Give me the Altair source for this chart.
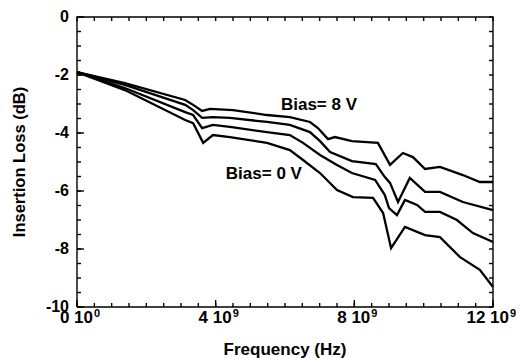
import altair as alt
import pandas as pd

# ---- data ----
f_8v = [0.00, 1.38, 3.12, 3.35, 3.61, 3.84, 4.50, 5.48, 6.14, 6.72, 6.95, 7.24, 7.44, 7.93, 8.68, 9.03, 9.40, 9.69, 10.04, 10.47, 11.13, 11.62, 12.00]
l_8v = [-1.90, -2.28, -2.86, -3.03, -3.24, -3.17, -3.21, -3.38, -3.45, -3.62, -3.83, -4.21, -4.14, -4.28, -4.34, -5.10, -4.69, -4.83, -5.24, -5.17, -5.45, -5.69, -5.69]

f_b2 = [0.00, 1.38, 3.12, 3.35, 3.61, 3.92, 4.41, 5.48, 6.14, 6.72, 7.01, 7.30, 7.93, 8.62, 8.88, 9.03, 9.26, 9.60, 10.04, 10.47, 11.13, 12.00]
l_b2 = [-1.90, -2.34, -3.03, -3.21, -3.48, -3.45, -3.48, -3.62, -3.72, -3.97, -4.28, -4.66, -4.97, -5.07, -5.52, -5.72, -6.38, -5.55, -6.03, -6.03, -6.38, -6.66]

f_b3 = [0.00, 1.38, 3.12, 3.35, 3.61, 3.92, 4.41, 5.48, 6.14, 6.52, 7.01, 7.50, 7.93, 8.60, 8.88, 9.00, 9.23, 9.46, 9.81, 10.04, 10.47, 10.96, 11.42, 12.00]
l_b3 = [-1.90, -2.45, -3.28, -3.38, -3.83, -3.72, -3.79, -3.97, -4.07, -4.34, -4.76, -5.10, -5.38, -5.62, -6.14, -6.59, -6.83, -6.31, -6.48, -6.72, -6.72, -7.00, -7.45, -7.76]

f_0v = [0.00, 1.38, 3.12, 3.35, 3.64, 3.92, 4.41, 5.48, 6.14, 6.52, 7.01, 7.50, 7.96, 8.54, 8.83, 9.06, 9.46, 10.04, 10.47, 11.05, 11.62, 12.00]
l_0v = [-1.90, -2.52, -3.55, -3.66, -4.34, -4.07, -4.14, -4.34, -4.59, -4.93, -5.38, -5.97, -6.21, -6.24, -6.76, -7.97, -7.24, -7.52, -7.59, -8.28, -8.72, -9.31]

series_names = ["Bias 8 V", "Bias mid 1", "Bias mid 2", "Bias 0 V"]
series_f = [f_8v, f_b2, f_b3, f_0v]
series_l = [l_8v, l_b2, l_b3, l_0v]

label_texts = ["Bias= 8 V", "Bias= 0 V"]
label_f = [6.98, 5.39]
label_l = [-3.03, -5.41]

x_title = "Frequency (Hz)"
y_title = "Insertion Loss (dB)"

x_major = [0, 4, 8, 12]
x_main_labels = ["0 10", "4 10", "8 10", "12 10"]
x_sup_labels = ["0", "9", "9", "9"]
y_major = [0, -2, -4, -6, -8, -10]
y_major_labels = ["0", "-2", "-4", "-6", "-8", "-10"]
x_minor = [i * 0.5 for i in range(0, 25)]
y_minor = [-i * 0.5 for i in range(0, 21)]

W, H = 416, 290
FONT = "Liberation Sans"
X_DOM = [0, 12]
Y_DOM = [-10, 0]

rows = []
for name, fs, ls in zip(series_names, series_f, series_l):
    for i, (f, l) in enumerate(zip(fs, ls)):
        rows.append({"series": name, "order": i, "freq": f, "loss": l})
df = pd.DataFrame(rows)

# frame + inward ticks on all four sides, as line segments (pixel lengths converted to data units)
px_x = (X_DOM[1] - X_DOM[0]) / W
px_y = (Y_DOM[1] - Y_DOM[0]) / H
tick_rows = []
frame_corners = [(X_DOM[0], Y_DOM[0]), (X_DOM[1], Y_DOM[0]), (X_DOM[1], Y_DOM[1]),
                 (X_DOM[0], Y_DOM[1]), (X_DOM[0], Y_DOM[0])]
for i, (fx, fy) in enumerate(frame_corners):
    tick_rows.append({"id": "frame", "order": i, "freq": fx, "loss": fy})


def add_xtick(k, v, yb, length_px, sign):
    tick_rows.append({"id": k, "order": 0, "freq": v, "loss": yb})
    tick_rows.append({"id": k, "order": 1, "freq": v, "loss": yb + sign * length_px * px_y})


def add_ytick(k, v, xb, length_px, sign):
    tick_rows.append({"id": k, "order": 0, "freq": xb, "loss": v})
    tick_rows.append({"id": k, "order": 1, "freq": xb + sign * length_px * px_x, "loss": v})


for j, v in enumerate(x_minor):
    add_xtick("xb%d" % j, v, Y_DOM[0], 4, 1)
    add_xtick("xt%d" % j, v, Y_DOM[1], 4, -1)
for j, v in enumerate(y_minor):
    add_ytick("yl%d" % j, v, X_DOM[0], 4, 1)
    add_ytick("yr%d" % j, v, X_DOM[1], 4, -1)
for j, v in enumerate(x_major):
    add_xtick("xB%d" % j, v, Y_DOM[0], 7, 1)
for j, v in enumerate(y_major):
    add_ytick("yL%d" % j, v, X_DOM[0], 7, 1)
df_ticks = pd.DataFrame(tick_rows)

df_lab = pd.DataFrame({"freq": label_f, "loss": label_l, "text": label_texts})
df_xlab = pd.DataFrame({"freq": x_major, "loss": [Y_DOM[0]] * len(x_major),
                        "main": x_main_labels, "sup": x_sup_labels})
df_ylab = pd.DataFrame({"loss": y_major, "text": y_major_labels})
df_xtitle = pd.DataFrame({"t": [x_title]})
df_ytitle = pd.DataFrame({"t": [y_title]})

xs = alt.Scale(domain=X_DOM, nice=False, zero=False)
ys = alt.Scale(domain=Y_DOM, nice=False, zero=False)

lines = alt.Chart(df).mark_line(color="black", strokeWidth=2.3).encode(
    x=alt.X("freq:Q", scale=xs, axis=None),
    y=alt.Y("loss:Q", scale=ys, axis=None),
    detail="series:N",
    order="order:Q",
)

ticks = alt.Chart(df_ticks).mark_line(color="black", strokeWidth=1.4).encode(
    x=alt.X("freq:Q", scale=xs, axis=None),
    y=alt.Y("loss:Q", scale=ys, axis=None),
    detail="id:N",
    order="order:Q",
)

xlab_main = alt.Chart(df_xlab).mark_text(
    font=FONT, fontSize=17, fontWeight="bold", color="black", align="right",
    baseline="alphabetic", dx=16, dy=16
).encode(x=alt.X("freq:Q", scale=xs, axis=None), y=alt.Y("loss:Q", scale=ys, axis=None),
         text="main:N")

xlab_sup = alt.Chart(df_xlab).mark_text(
    font=FONT, fontSize=11, fontWeight="bold", color="black", align="left",
    baseline="alphabetic", dx=17, dy=10
).encode(x=alt.X("freq:Q", scale=xs, axis=None), y=alt.Y("loss:Q", scale=ys, axis=None),
         text="sup:N")

ylab = alt.Chart(df_ylab).mark_text(
    font=FONT, fontSize=16, fontWeight="bold", color="black", align="right",
    baseline="middle", dx=-8
).encode(x=alt.value(0), y=alt.Y("loss:Q", scale=ys, axis=None), text="text:N")

xtitle = alt.Chart(df_xtitle).mark_text(
    font=FONT, fontSize=17, fontWeight="bold", color="black", align="center",
    baseline="alphabetic"
).encode(x=alt.value(W / 2), y=alt.value(H + 48), text="t:N")

ytitle = alt.Chart(df_ytitle).mark_text(
    font=FONT, fontSize=16.5, fontWeight="bold", color="black", align="center",
    baseline="middle", angle=270
).encode(x=alt.value(-57), y=alt.value(H / 2), text="t:N")

texts = alt.Chart(df_lab).mark_text(
    font=FONT, fontSize=17, fontWeight="bold", color="black", align="center", baseline="middle"
).encode(x=alt.X("freq:Q", scale=xs, axis=None), y=alt.Y("loss:Q", scale=ys, axis=None),
         text="text:N")

chart = alt.layer(lines, ticks, xlab_main, xlab_sup, ylab, xtitle, ytitle, texts).properties(
    width=W, height=H,
    padding={"left": 77, "top": 17, "right": 28, "bottom": 51},
    autosize=alt.AutoSizeParams(type="none"),
    background="white",
).configure_view(strokeWidth=0)

chart.save("out.html", embed_options={"renderer": "svg", "actions": False})
